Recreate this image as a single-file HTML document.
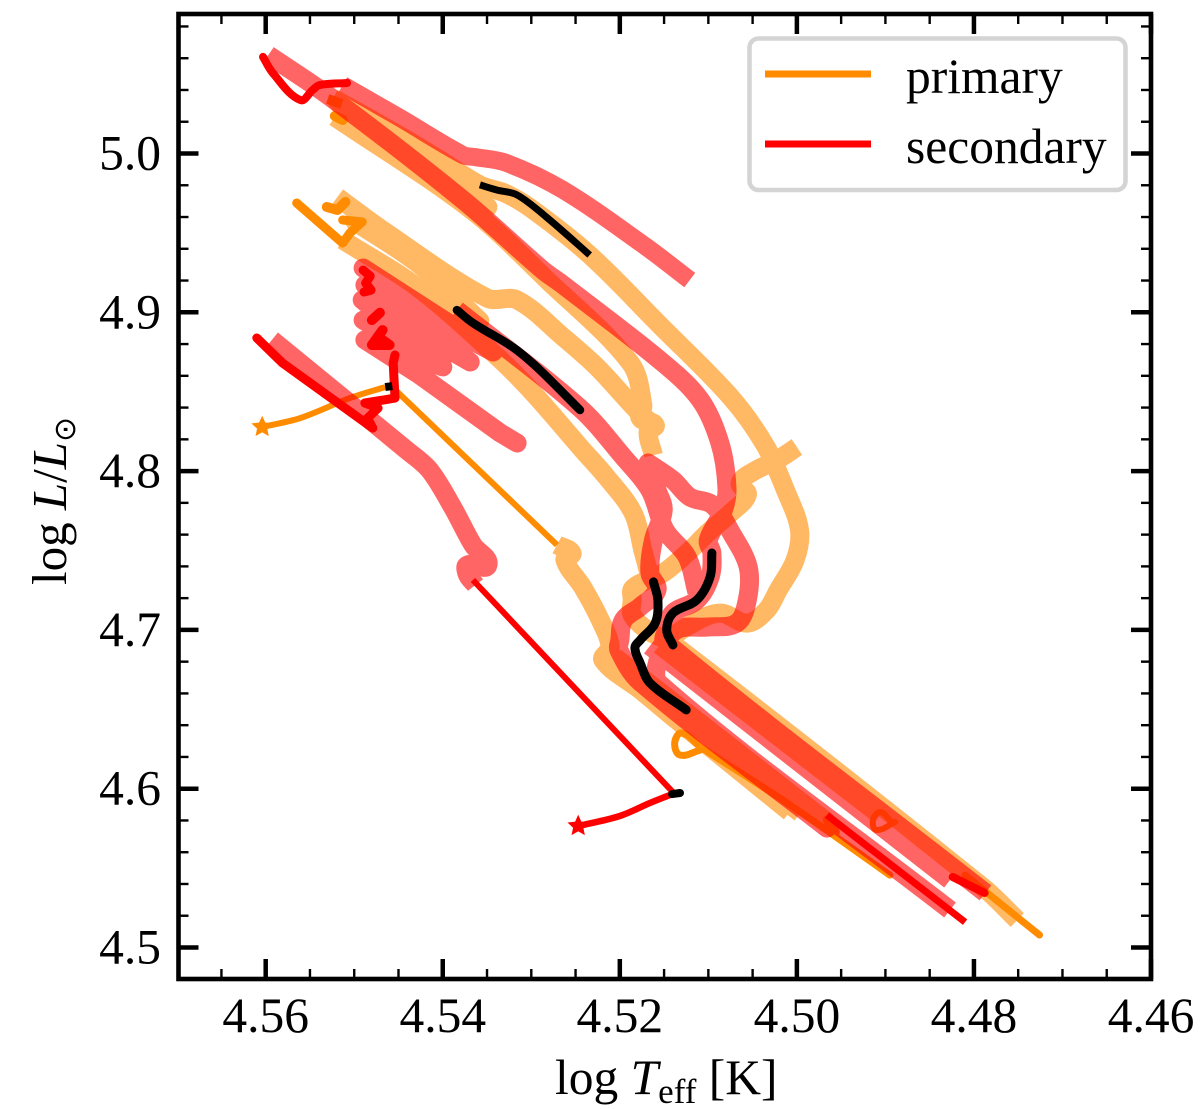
<!DOCTYPE html>
<html lang="en">
<head>
<meta charset="utf-8">
<title>HR diagram tracks</title>
<style>
html,body{margin:0;padding:0;background:#fff;}
svg{display:block;}
text{font-family:"Liberation Serif","DejaVu Serif",serif;fill:#000;}
</style>
</head>
<body>
<svg id="chart" xmlns="http://www.w3.org/2000/svg" width="1200" height="1109" viewBox="0 0 1200 1109">
  <rect x="0" y="0" width="1200" height="1109" fill="#fff"/>
  <g>
    <g id="primaryPale" opacity="0.6"></g>
    <g id="primarySolid"></g>
    <g id="secondaryPale" opacity="0.6"></g>
    <g id="secondarySolid"></g>
    <g id="highlight"></g>
  </g>
  <g id="ticks"></g>
  <rect x="178.5" y="14" width="972.5" height="965" fill="none" stroke="#000" stroke-width="4.6"/>
  <g>
    <rect x="749.500" y="38.500" width="376" height="151.500" rx="9" ry="9" fill="#fff" fill-opacity=".9" stroke="#d4d4d4" stroke-width="4.500"/>
    <line x1="765" y1="74" x2="871" y2="74" stroke="#ff8c00" stroke-width="7"/>
    <text x="906" y="93" font-size="49.500">primary</text>
    <line x1="765" y1="144" x2="871" y2="144" stroke="#ff0000" stroke-width="7"/>
    <text x="906" y="163" font-size="49.500">secondary</text>
  </g>
  <text x="555" y="1094" font-size="49.500">log <tspan font-style="italic">T</tspan><tspan dy="9" font-size="35">eff</tspan><tspan dy="-9">&#160;[K]</tspan></text>
  <text transform="translate(66,585) rotate(-90)" font-size="49">log <tspan font-style="italic">L</tspan>/<tspan font-style="italic">L</tspan><tspan dy="9" font-size="30" style="font-family:'DejaVu Sans',sans-serif">&#8857;</tspan></text>
</svg>
<script>
// Axis tick values
const xMajorTicks = [4.56, 4.54, 4.52, 4.50, 4.48, 4.46];
const xTickLabels = ["4.56", "4.54", "4.52", "4.50", "4.48", "4.46"];
const yMajorTicks = [5.0, 4.9, 4.8, 4.7, 4.6, 4.5];
const yTickLabels = ["5.0", "4.9", "4.8", "4.7", "4.6", "4.5"];

// Primary star: broad translucent track segments
const primaryA_logT = [4.4751,4.4790,4.5143,4.5166,4.5186,4.5186,4.5185,4.5151,4.5124,4.5101,4.5075,4.5056,4.5064,4.5050,4.5019,4.5000];
const primaryA_logL = [4.5173,4.5381,4.6924,4.6987,4.7094,4.7188,4.7264,4.7358,4.7484,4.7610,4.7736,4.7850,4.7925,4.7994,4.8082,4.8152];
const primaryB_logT = [4.5524,4.5448,4.5403,4.5358,4.5330,4.5301,4.5234,4.5155,4.5075,4.5036,4.5013,4.4997,4.5002,4.5021,4.5034,4.5056,4.5087,4.5121,4.5146];
const primaryB_logL = [5.0349,5.0110,4.9959,4.9802,4.9751,4.9657,4.9361,4.8920,4.8467,4.8164,4.7881,4.7629,4.7440,4.7251,4.7125,4.7043,4.7106,4.7031,4.6936];
const primaryC_logT = [4.5522,4.5369,4.5282,4.5188,4.5174,4.5177,4.5160,4.5168,4.5162];
const primaryC_logL = [5.0230,4.9650,4.9203,4.8681,4.8416,4.8334,4.8290,4.8246,4.8101];
const primaryD_logT = [4.5516,4.5448,4.5369,4.5349];
const primaryD_logL = [5.0305,5.0022,4.9726,4.9663];
const primaryE_logT = [4.5519,4.5465,4.5350,4.5316,4.5264,4.5226,4.5181,4.5162];
const primaryE_logL = [4.9726,4.9506,4.9090,4.9078,4.8844,4.8656,4.8385,4.8290];
const primaryF_logT = [4.5499,4.5426,4.5358];
const primaryF_logL = [4.9569,4.9298,4.8946];
const primaryG_logT = [4.5513,4.5429,4.5343,4.5301,4.5242,4.5215,4.5185,4.5174,4.5166];
const primaryG_logL = [4.9455,4.9159,4.8744,4.8511,4.8133,4.7963,4.7736,4.7503,4.7333];
const primaryH_logT = [4.5271,4.5254,4.5262,4.5242,4.5222,4.5211,4.5219,4.5177,4.5140,4.5008];
const primaryH_logL = [4.7535,4.7484,4.7440,4.7270,4.7062,4.6892,4.6810,4.6622,4.6451,4.5853];
const primaryI_logT = [4.5206,4.5166,4.4966];
const primaryI_logL = [4.6829,4.6659,4.5790];
const primaryJ_logT = [4.5155,4.4906];
const primaryJ_logL = [4.6905,4.5834];
const primaryK_logT = [4.5166,4.4996];
const primaryK_logL = [4.6584,4.5847];

// Primary star: solid narrow segments
const primarySolid1_logT = [4.5604,4.5561,4.5505,4.5465];
const primarySolid1_logL = [4.8278,4.8334,4.8460,4.8529];
const primarySolid1b_logT = [4.5457,4.5271];
const primarySolid1b_logL = [4.8529,4.7535];
const primarySolid2_logT = [4.5565,4.5513,4.5505,4.5491,4.5513];
const primarySolid2_logL = [4.9688,4.9436,4.9499,4.9569,4.9581];
const primarySolid3_logT = [4.5531,4.5519,4.5510];
const primarySolid3_logL = [4.9663,4.9644,4.9695];
const primarySolid4_logT = [4.5530,4.5514];
const primarySolid4_logL = [5.0343,5.0312];
const primarySolid5_logT = [4.5522,4.5513];
const primarySolid5_logL = [5.0236,5.0211];
const primarySolid6_logT = [4.4895,4.5011,4.5109,4.5130,4.5138,4.5132,4.5109];
const primarySolid6_logL = [4.5456,4.5910,4.6263,4.6351,4.6288,4.6212,4.6244];
const primarySolid7_logT = [4.4895,4.4906,4.4914,4.4910,4.4889];
const primarySolid7_logL = [4.5803,4.5853,4.5803,4.5740,4.5790];
const primarySolid8_logT = [4.4810,4.4726];
const primarySolid8_logL = [4.5456,4.5079];
const primarySolid9_logT = [4.4965,4.4957];
const primarySolid9_logL = [4.5803,4.5727];

// Secondary star: broad translucent track segments
const secondaryA_logT = [4.5597,4.5527,4.5377,4.5287,4.5264,4.5151,4.5109,4.5087,4.5079,4.5083,4.5100,4.5096,4.5098,4.5113,4.5140,4.5147,4.5149,4.4787];
const secondaryA_logL = [5.0620,5.0356,4.9707,4.9266,4.9172,4.8681,4.8448,4.8177,4.7900,4.7755,4.7566,4.7484,4.7333,4.7188,4.7106,4.7000,4.6924,4.5344];
const secondaryB_logT = [4.5513,4.5448,4.5377,4.5364,4.5328,4.5264,4.5170,4.5121];
const secondaryB_logL = [5.0431,5.0223,4.9990,4.9978,4.9940,4.9770,4.9411,4.9203];
const secondaryC_logT = [4.5168,4.5140,4.5121,4.5095,4.5074,4.5055,4.5056,4.5068,4.5101,4.5136,4.5155,4.5155,4.4827];
const secondaryC_logL = [4.8051,4.7944,4.7837,4.7786,4.7610,4.7396,4.7188,4.7043,4.7018,4.7000,4.6842,4.6660,4.5236];
const secondaryD_logT = [4.5168,4.5158,4.5151,4.5162,4.5166,4.5158,4.5177,4.5196,4.5200,4.5201,4.5177,4.4966];
const secondaryD_logL = [4.8051,4.7881,4.7755,4.7566,4.7358,4.7251,4.7146,4.7062,4.6936,4.6873,4.6672,4.5752];
const secondaryE_logT = [4.5384,4.5245,4.5196,4.5166,4.5149,4.5124,4.5113];
const secondaryE_logL = [4.9014,4.8397,4.8089,4.7881,4.7629,4.7459,4.7239];
const secondaryF_logT = [4.5143,4.4906];
const secondaryF_logL = [4.6860,4.5834];
const secondaryF2_logT = [4.5166,4.4827];
const secondaryF2_logL = [4.6899,4.5425];
const secondaryG_logT = [4.5593,4.5441,4.5415,4.5389,4.5366,4.5349,4.5372,4.5372,4.5363];
const secondaryG_logL = [4.8826,4.8133,4.8007,4.7774,4.7535,4.7409,4.7409,4.7346,4.7283];
const secondaryH_logT = [4.5490,4.5343,4.5488,4.5369,4.5491,4.5403,4.5490,4.5400,4.5488,4.5426,4.5335,4.5316];
const secondaryH_logL = [4.9279,4.8750,4.9172,4.8687,4.9078,4.8687,4.8951,4.8656,4.8826,4.8605,4.8240,4.8177];

// Secondary star: solid narrow segments
const secondarySolid1_logT = [4.5603,4.5592,4.5561,4.5547,4.5539,4.5508];
const secondarySolid1_logL = [5.0608,5.0507,5.0337,5.0400,5.0431,5.0444];
const secondarySolid2_logT = [4.5610,4.5581,4.5479,4.5485,4.5473,4.5488,4.5454,4.5456,4.5454];
const secondarySolid2_logL = [4.8838,4.8681,4.8271,4.8334,4.8397,4.8429,4.8460,4.8681,4.8731];
const secondarySolid3_logT = [4.5247,4.5200,4.5166,4.5141];
const secondarySolid3_logL = [4.5765,4.5828,4.5910,4.5966];
const secondarySolid3b_logT = [4.5138,4.5366];
const secondarySolid3b_logL = [4.5966,4.7314];
const secondarySolid4_logT = [4.5490,4.5482,4.5487,4.5481,4.5489];
const secondarySolid4_logL = [4.9266,4.9228,4.9184,4.9140,4.9128];
const secondarySolid5_logT = [4.5471,4.5480];
const secondarySolid5_logL = [4.8997,4.8951];
const secondarySolid6_logT = [4.5468,4.5480,4.5460,4.5471];
const secondarySolid6_logL = [4.8888,4.8794,4.8794,4.8838];
const secondarySolid7_logT = [4.4966,4.4810];
const secondarySolid7_logL = [4.5834,4.5160];
const secondarySolid8_logT = [4.4824,4.4788];
const secondarySolid8_logL = [4.5444,4.5344];

// Black highlighted phases
const phase1_logT = [4.5358,4.5339,4.5316,4.5283,4.5234];
const phase1_logL = [4.9802,4.9770,4.9739,4.9600,4.9361];
const phase2_logT = [4.5384,4.5366,4.5321,4.5294,4.5245];
const phase2_logL = [4.9014,4.8933,4.8781,4.8656,4.8385];
const phase3_logT = [4.5162,4.5157,4.5160,4.5177,4.5183,4.5177,4.5166,4.5125];
const phase3_logL = [4.7302,4.7188,4.7043,4.6936,4.6886,4.6791,4.6666,4.6496];
const phase4_logT = [4.5096,4.5098,4.5113,4.5140,4.5147,4.5140];
const phase4_logL = [4.7484,4.7333,4.7188,4.7106,4.7000,4.6905];
const phase5_logT = [4.5465,4.5457];
const phase5_logL = [4.8529,4.8535];
const phase6_logT = [4.5141,4.5132];
const phase6_logL = [4.5966,4.5973];

// Start markers
const primaryStar_logT = [4.5604];
const primaryStar_logL = [4.8278];
const secondaryStar_logT = [4.5247];
const secondaryStar_logL = [4.5765];

// Axis functions
function xScale(logT){ return 265.7 + (4.56 - logT) * 8853; }
function yScale(logL){ return 153.5 + (5.0 - logL) * 1588; }

const NS = 'http://www.w3.org/2000/svg';
const primaryPale = document.getElementById('primaryPale');
const primarySolid = document.getElementById('primarySolid');
const secondaryPale = document.getElementById('secondaryPale');
const secondarySolid = document.getElementById('secondarySolid');
const highlight = document.getElementById('highlight');
const tickLayer = document.getElementById('ticks');
const ORANGE = '#ff8c00', RED = '#ff0000', BLACK = '#000000';

function unit(ax, ay, bx, by){
  const dx = bx - ax, dy = by - ay;
  const n = Math.hypot(dx, dy) || 1;
  return [dx / n, dy / n];
}

function smoothPath(xs, ys){
  let d = 'M' + xs[0].toFixed(1) + ' ' + ys[0].toFixed(1);
  for (let i = 0; i < xs.length - 1; i++){
    const i0 = Math.max(i - 1, 0), i3 = Math.min(i + 2, xs.length - 1);
    const len = Math.hypot(xs[i + 1] - xs[i], ys[i + 1] - ys[i]) / 3;
    const t1 = unit(xs[i0], ys[i0], xs[i + 1], ys[i + 1]);
    const t2 = unit(xs[i], ys[i], xs[i3], ys[i3]);
    d += 'C' + (xs[i] + t1[0] * len).toFixed(1) + ' ' + (ys[i] + t1[1] * len).toFixed(1) + ' ' +
         (xs[i + 1] - t2[0] * len).toFixed(1) + ' ' + (ys[i + 1] - t2[1] * len).toFixed(1) + ' ' +
         xs[i + 1].toFixed(1) + ' ' + ys[i + 1].toFixed(1);
  }
  return d;
}

function drawTrack(parent, name, logT, logL, color, width, cap, straight){
  const el = document.createElementNS(NS, 'path');
  const xs = logT.map(xScale), ys = logL.map(yScale);
  let d;
  if (straight){
    d = 'M' + xs.map(function(x, i){ return x.toFixed(1) + ' ' + ys[i].toFixed(1); }).join('L');
  } else {
    d = smoothPath(xs, ys);
  }
  el.setAttribute('d', d);
  el.setAttribute('fill', 'none');
  el.setAttribute('stroke', color);
  el.setAttribute('stroke-width', width);
  el.setAttribute('stroke-linejoin', 'round');
  el.setAttribute('stroke-linecap', cap || 'butt');
  
  
  parent.appendChild(el);
}

function drawStar(parent, name, logT, logL, color){
  const cx = xScale(logT[0]), cy = yScale(logL[0]);
  const el = document.createElementNS(NS, 'polygon');
  const pts = [];
  for (let i = 0; i < 10; i++){
    const r = i % 2 ? 4.5 : 9.5;
    const a = -Math.PI / 2 + i * Math.PI / 5;
    pts.push((cx + r * Math.cos(a)).toFixed(1) + ',' + (cy + r * Math.sin(a)).toFixed(1));
  }
  el.setAttribute('points', pts.join(' '));
  el.setAttribute('fill', color);
  el.setAttribute('stroke', color);
  el.setAttribute('stroke-width', '1.5');
  
  
  parent.appendChild(el);
}

const PALE = 19;
drawTrack(primaryPale, 'primary-track-a', primaryA_logT, primaryA_logL, ORANGE, PALE);
drawTrack(primaryPale, 'primary-track-b', primaryB_logT, primaryB_logL, ORANGE, PALE);
drawTrack(primaryPale, 'primary-track-c', primaryC_logT, primaryC_logL, ORANGE, PALE);
drawTrack(primaryPale, 'primary-track-d', primaryD_logT, primaryD_logL, ORANGE, PALE, 'round');
drawTrack(primaryPale, 'primary-track-e', primaryE_logT, primaryE_logL, ORANGE, PALE);
drawTrack(primaryPale, 'primary-track-f', primaryF_logT, primaryF_logL, ORANGE, PALE, 'round');
drawTrack(primaryPale, 'primary-track-g', primaryG_logT, primaryG_logL, ORANGE, PALE);
drawTrack(primaryPale, 'primary-track-h', primaryH_logT, primaryH_logL, ORANGE, PALE);
drawTrack(primaryPale, 'primary-track-i', primaryI_logT, primaryI_logL, ORANGE, PALE);
drawTrack(primaryPale, 'primary-track-j', primaryJ_logT, primaryJ_logL, ORANGE, PALE);
drawTrack(primaryPale, 'primary-track-k', primaryK_logT, primaryK_logL, ORANGE, PALE);

drawTrack(primarySolid, 'primary-solid-1', primarySolid1_logT, primarySolid1_logL, ORANGE, 6);
drawTrack(primarySolid, 'primary-solid-1b', primarySolid1b_logT, primarySolid1b_logL, ORANGE, 6, 'butt', true);
drawTrack(primarySolid, 'primary-solid-2', primarySolid2_logT, primarySolid2_logL, ORANGE, 9, 'round', true);
drawTrack(primarySolid, 'primary-solid-3', primarySolid3_logT, primarySolid3_logL, ORANGE, 10, 'round', true);
drawTrack(primarySolid, 'primary-solid-4', primarySolid4_logT, primarySolid4_logL, ORANGE, 10);
drawTrack(primarySolid, 'primary-solid-5', primarySolid5_logT, primarySolid5_logL, ORANGE, 10, 'round');
drawTrack(primarySolid, 'primary-solid-6', primarySolid6_logT, primarySolid6_logL, ORANGE, 7, 'round');
drawTrack(primarySolid, 'primary-solid-7', primarySolid7_logT, primarySolid7_logL, ORANGE, 6, 'round');
drawTrack(primarySolid, 'primary-solid-8', primarySolid8_logT, primarySolid8_logL, ORANGE, 7, 'round');
drawTrack(primarySolid, 'primary-solid-9', primarySolid9_logT, primarySolid9_logL, ORANGE, 10, 'round');

drawTrack(secondaryPale, 'secondary-track-a', secondaryA_logT, secondaryA_logL, RED, PALE);
drawTrack(secondaryPale, 'secondary-track-b', secondaryB_logT, secondaryB_logL, RED, 18);
drawTrack(secondaryPale, 'secondary-track-c', secondaryC_logT, secondaryC_logL, RED, PALE);
drawTrack(secondaryPale, 'secondary-track-d', secondaryD_logT, secondaryD_logL, RED, PALE, 'round');
drawTrack(secondaryPale, 'secondary-track-e', secondaryE_logT, secondaryE_logL, RED, PALE);
drawTrack(secondaryPale, 'secondary-track-f', secondaryF_logT, secondaryF_logL, RED, PALE);
drawTrack(secondaryPale, 'secondary-track-f2', secondaryF2_logT, secondaryF2_logL, RED, PALE);
drawTrack(secondaryPale, 'secondary-track-g', secondaryG_logT, secondaryG_logL, RED, PALE);
drawTrack(secondaryPale, 'secondary-track-h', secondaryH_logT, secondaryH_logL, RED, PALE, 'round', true);

drawTrack(secondarySolid, 'secondary-solid-1', secondarySolid1_logT, secondarySolid1_logL, RED, 8, 'round');
drawTrack(secondarySolid, 'secondary-solid-2', secondarySolid2_logT, secondarySolid2_logL, RED, 9, 'round', true);
drawTrack(secondarySolid, 'secondary-solid-3', secondarySolid3_logT, secondarySolid3_logL, RED, 6.5);
drawTrack(secondarySolid, 'secondary-solid-3b', secondarySolid3b_logT, secondarySolid3b_logL, RED, 6, 'butt', true);
drawTrack(secondarySolid, 'secondary-solid-4', secondarySolid4_logT, secondarySolid4_logL, RED, 9, 'round', true);
drawTrack(secondarySolid, 'secondary-solid-5', secondarySolid5_logT, secondarySolid5_logL, RED, 10, 'round', true);
drawTrack(secondarySolid, 'secondary-solid-6', secondarySolid6_logT, secondarySolid6_logL, RED, 10, 'round', true);
drawTrack(secondarySolid, 'secondary-solid-7', secondarySolid7_logT, secondarySolid7_logL, RED, 7, 'butt', true);
drawTrack(secondarySolid, 'secondary-solid-8', secondarySolid8_logT, secondarySolid8_logL, RED, 8, 'round', true);

drawTrack(highlight, 'highlight-phase-1', phase1_logT, phase1_logL, BLACK, 7);
drawTrack(highlight, 'highlight-phase-2', phase2_logT, phase2_logL, BLACK, 8.5, 'round');
drawTrack(highlight, 'highlight-phase-3', phase3_logT, phase3_logL, BLACK, 9, 'round');
drawTrack(highlight, 'highlight-phase-4', phase4_logT, phase4_logL, BLACK, 9, 'round');
drawTrack(highlight, 'highlight-phase-5', phase5_logT, phase5_logL, BLACK, 8, 'butt', true);
drawTrack(highlight, 'highlight-phase-6', phase6_logT, phase6_logL, BLACK, 8, 'round', true);

drawStar(primarySolid, 'primary-start-star', primaryStar_logT, primaryStar_logL, ORANGE);
drawStar(secondarySolid, 'secondary-start-star', secondaryStar_logT, secondaryStar_logL, RED);

// Ticks
const LEFT = 178.5, RIGHT = 1151, TOP = 14, BOTTOM = 979;

function tick(name, x1, y1, x2, y2, w){
  const el = document.createElementNS(NS, 'line');
  el.setAttribute('x1', x1);
  el.setAttribute('y1', y1);
  el.setAttribute('x2', x2);
  el.setAttribute('y2', y2);
  el.setAttribute('stroke', '#000');
  el.setAttribute('stroke-width', w);
  
  
  tickLayer.appendChild(el);
}

function label(name, str, x, y, anchor){
  const el = document.createElementNS(NS, 'text');
  el.setAttribute('x', x);
  el.setAttribute('y', y);
  el.setAttribute('font-size', '49.5');
  el.setAttribute('text-anchor', anchor);
  
  
  el.textContent = str;
  tickLayer.appendChild(el);
}

xMajorTicks.forEach(function(v, i){
  const x = xScale(v);
  tick('x-major-tick-bottom', x, BOTTOM, x, BOTTOM - 20, 4.5);
  tick('x-major-tick-top', x, TOP, x, TOP + 20, 4.5);
  label('x-tick-label', xTickLabels[i], x, 1032, 'middle');
});
for (let k = 0; k < 22; k++){
  const v = 4.565 - k * 0.005;
  const x = xScale(v);
  if (k % 4 === 1) continue;
  if (x < LEFT + 2 || x > RIGHT - 2) continue;
  tick('x-minor-tick-bottom', x, BOTTOM, x, BOTTOM - 10, 2.4);
  tick('x-minor-tick-top', x, TOP, x, TOP + 10, 2.4);
}
yMajorTicks.forEach(function(v, i){
  const y = yScale(v);
  tick('y-major-tick-left', LEFT, y, LEFT + 20, y, 4.5);
  tick('y-major-tick-right', RIGHT, y, RIGHT - 20, y, 4.5);
  label('y-tick-label', yTickLabels[i], 161, y + 16, 'end');
});
for (let k = 0; k < 31; k++){
  const v = 5.08 - k * 0.02;
  if (k % 5 === 4) continue;
  const y = yScale(v);
  if (y < TOP + 2 || y > BOTTOM - 2) continue;
  tick('y-minor-tick-left', LEFT, y, LEFT + 10, y, 2.4);
  tick('y-minor-tick-right', RIGHT, y, RIGHT - 10, y, 2.4);
}
</script>
</body>
</html>
